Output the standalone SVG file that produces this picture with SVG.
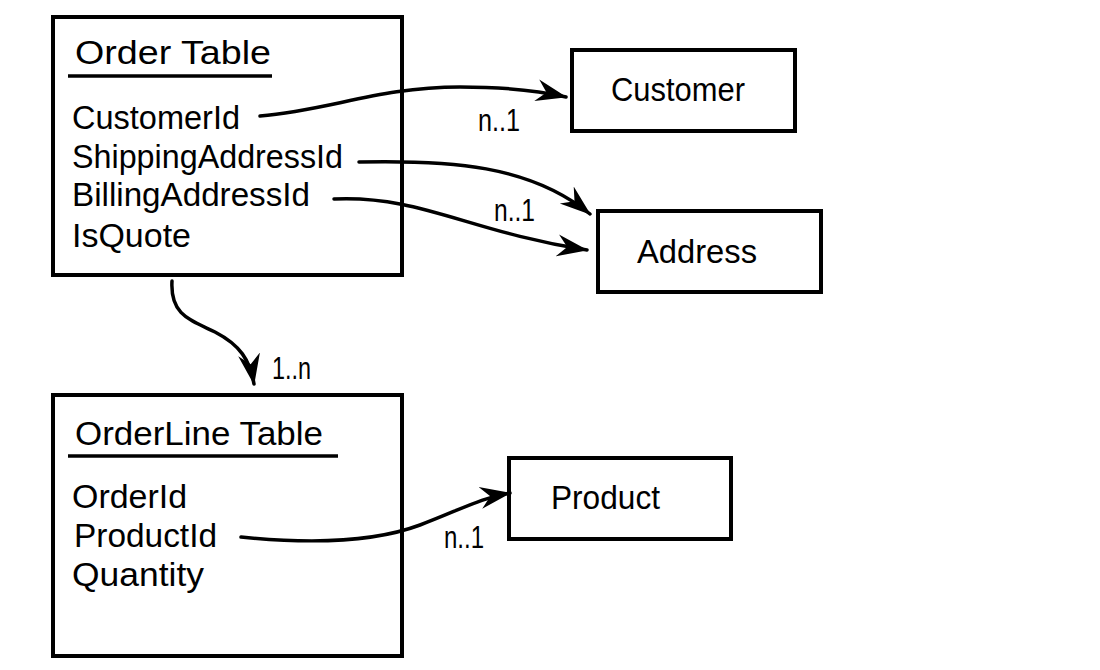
<svg xmlns="http://www.w3.org/2000/svg" width="1100" height="670" viewBox="0 0 1100 670">
<style>
.box{fill:none;stroke:#000;stroke-width:4}
.ul{stroke:#000;stroke-width:3.5}
.t{font-family:"Liberation Sans","DejaVu Sans",sans-serif;font-size:34px;fill:#000}
.lbl{font-family:"Liberation Sans","DejaVu Sans",sans-serif;font-size:31px;fill:#000}
.c{fill:none;stroke:#000;stroke-width:3.5;stroke-linecap:round;marker-end:url(#ah)}
</style>
<defs>
<marker id="ah" markerUnits="userSpaceOnUse" markerWidth="32" markerHeight="24" viewBox="0 0 32 24" refX="30" refY="12" orient="auto">
<path d="M0,1 L31,12 L0,23 L10,12 Z" fill="#000"/>
</marker>
</defs>
<rect width="1100" height="670" fill="#fff"/>
<g id="order-table">
<rect class="box" x="53" y="17" width="349" height="258"/>
<text class="t" x="75" y="64" textLength="196" lengthAdjust="spacingAndGlyphs">Order Table</text>
<line class="ul" x1="68" y1="76" x2="272" y2="76"/>
<text class="t" x="72" y="129" textLength="168" lengthAdjust="spacingAndGlyphs">CustomerId</text>
<text class="t" x="72" y="168" textLength="271" lengthAdjust="spacingAndGlyphs">ShippingAddressId</text>
<text class="t" x="72" y="206" textLength="238" lengthAdjust="spacingAndGlyphs">BillingAddressId</text>
<text class="t" x="72" y="247" textLength="119" lengthAdjust="spacingAndGlyphs">IsQuote</text>
</g>
<g id="customer">
<rect class="box" x="572" y="50" width="223" height="81"/>
<text class="t" x="611" y="101" textLength="134" lengthAdjust="spacingAndGlyphs">Customer</text>
</g>
<g id="address">
<rect class="box" x="598" y="211" width="223" height="81"/>
<text class="t" x="637" y="263" textLength="120" lengthAdjust="spacingAndGlyphs">Address</text>
</g>
<g id="orderline-table">
<rect class="box" x="53" y="395" width="349" height="261"/>
<text class="t" x="75" y="445" textLength="248" lengthAdjust="spacingAndGlyphs">OrderLine Table</text>
<line class="ul" x1="68" y1="456" x2="338" y2="456"/>
<text class="t" x="72" y="508" textLength="115" lengthAdjust="spacingAndGlyphs">OrderId</text>
<text class="t" x="74" y="547" textLength="143" lengthAdjust="spacingAndGlyphs">ProductId</text>
<text class="t" x="72" y="586" textLength="132" lengthAdjust="spacingAndGlyphs">Quantity</text>
</g>
<g id="product">
<rect class="box" x="509" y="458" width="222" height="81"/>
<text class="t" x="551" y="509" textLength="109" lengthAdjust="spacingAndGlyphs">Product</text>
</g>
<g id="connectors">
<path class="c" d="M260,116 C330,110 380,87 460,87 C510,87 540,91 566,97"/>
<path class="c" d="M359,162 C450,160 530,165 590,214"/>
<path class="c" d="M334,199 C420,195 470,232 587,250"/>
<path class="c" d="M172,281 C170,315 190,320 215,332 C240,345 250,360 254,384"/>
<path class="c" d="M241,537 C320,545 380,540 420,525 C460,510 480,498 510,493"/>
<text class="lbl" x="478" y="131" textLength="42" lengthAdjust="spacingAndGlyphs">n..1</text>
<text class="lbl" x="494" y="221" textLength="41" lengthAdjust="spacingAndGlyphs">n..1</text>
<text class="lbl" x="272" y="379" textLength="39" lengthAdjust="spacingAndGlyphs">1..n</text>
<text class="lbl" x="444" y="548" textLength="40" lengthAdjust="spacingAndGlyphs">n..1</text>
</g>
</svg>
